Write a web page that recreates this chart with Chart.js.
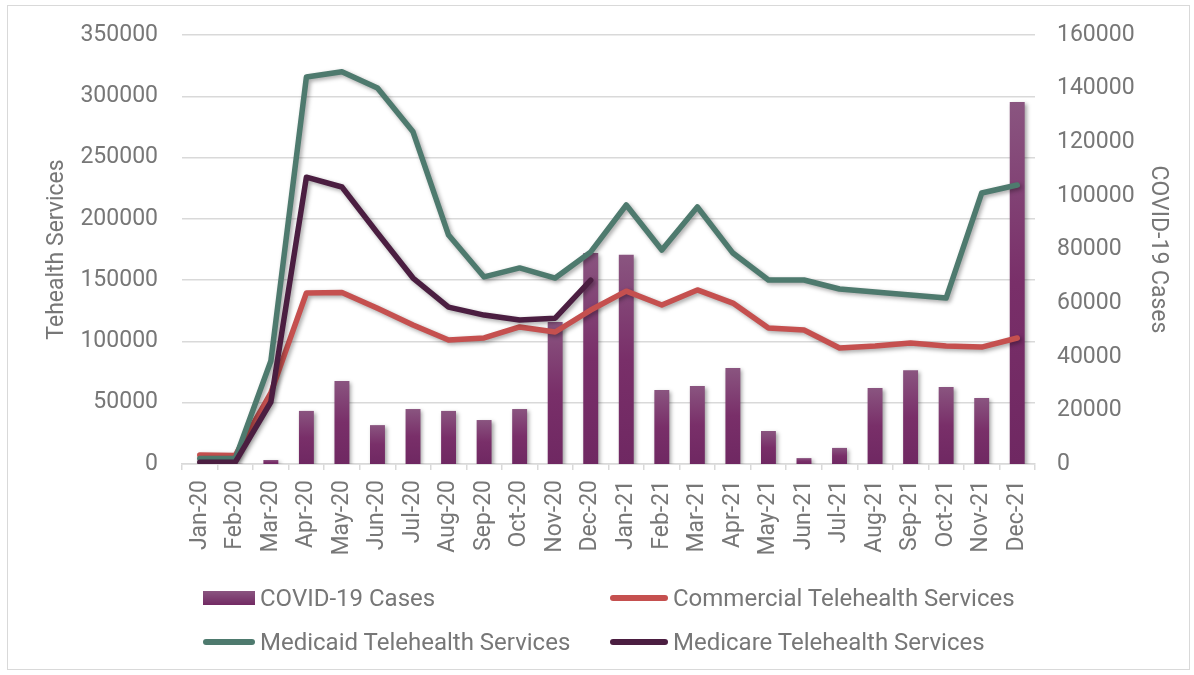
<!DOCTYPE html>
<html>
<head>
<meta charset="utf-8">
<script src="https://cdn.jsdelivr.net/npm/chart.js@4.4.1/dist/chart.umd.min.js"></script>
<style>
    body { margin: 0; background: #fff; font-family: Roboto, sans-serif; }
    #frame { position: absolute; left: 7px; top: 5px; width: 1181px; height: 663px; border: 1px solid #d9d9d9; }
    canvas { display: block; }
    .item { position: absolute; display: flex; align-items: center; white-space: nowrap;
            font: 24px Roboto, sans-serif; color: #777; line-height: 28px; height: 28px; }
    .swatch-bar { width: 52px; height: 14px; margin-right: 5px;
                  background: linear-gradient(#8a5580, #722a63); }
    .swatch-line { width: 58px; height: 6px; border-radius: 3px; margin-right: 5px; }
</style>
</head>
<body>
<div id="frame">
    <canvas id="chart" width="1181" height="663"></canvas>
    <div class="item" style="left:195px; top:578px;"><span class="swatch-bar"></span>COVID-19 Cases</div>
    <div class="item" style="left:602px; top:578px;"><span class="swatch-line" style="background:#c5504f"></span>Commercial Telehealth Services</div>
    <div class="item" style="left:195px; top:622px;"><span class="swatch-line" style="background:#4e7a6e; width:52px"></span>Medicaid Telehealth Services</div>
    <div class="item" style="left:602px; top:622px;"><span class="swatch-line" style="background:#4b1e41"></span>Medicare Telehealth Services</div>
</div>
<script>
const months = ['Jan-20', 'Feb-20', 'Mar-20', 'Apr-20', 'May-20', 'Jun-20', 'Jul-20', 'Aug-20',
    'Sep-20', 'Oct-20', 'Nov-20', 'Dec-20', 'Jan-21', 'Feb-21', 'Mar-21', 'Apr-21', 'May-21',
    'Jun-21', 'Jul-21', 'Aug-21', 'Sep-21', 'Oct-21', 'Nov-21', 'Dec-21'];

const covidCases = [0, 20, 1500, 19800, 31000, 14500, 20500, 19800, 16400, 20500, 53000, 78700,
    78000, 27600, 29100, 35800, 12300, 2200, 6000, 28300, 35000, 28700, 24600, 135000];

const commercial = [7300, 7000, 58000, 139500, 140000, 127000, 113400, 101200, 102800, 111800, 107700, 125600,
    141000, 129700, 142000, 131300, 111000, 109300, 94600, 96300, 98700, 96300, 95400, 102800];

const medicaid = [4500, 4500, 84000, 315700, 320000, 306700, 271000, 186800, 152600, 160000, 151700, 173000,
    211300, 174600, 209700, 172100, 150100, 150100, 142800, 140300, 137900, 135400, 221100, 227600];

const medicare = [1500, 1500, 50600, 234000, 226000, 188500, 151700, 128000, 121500, 117500, 119000, 150000,
    null, null, null, null, null, null, null, null, null, null, null, null];

// min, max, step
const servicesAxis = [0, 350000, 50000];
const casesAxis = [0, 160000, 20000];

Chart.defaults.font.family = 'Roboto, sans-serif';
Chart.defaults.font.size = 23;
Chart.defaults.color = '#777';

// soft drop shadow under bars and lines
const shadowPlugin = {
    id: 'shadow',
    beforeDatasetsDraw(chart) {
        const c = chart.ctx;
        c.save();
        c.shadowColor = 'rgba(0,0,0,0.35)';
        c.shadowBlur = 4;
        c.shadowOffsetX = 2;
        c.shadowOffsetY = 2;
    },
    afterDatasetsDraw(chart) {
        chart.ctx.restore();
    }
};

function barFill(ctx) {
    const chart = ctx.chart;
    if (ctx.type !== 'data' || !chart.chartArea) return '#772d66';
    const s = chart.scales.yCases;
    const top = s.getPixelForValue(ctx.raw);
    const bottom = s.getPixelForValue(0);
    if (bottom - top < 1) return '#772d66';
    const g = chart.ctx.createLinearGradient(0, top, 0, bottom);
    g.addColorStop(0, '#8a5580');
    g.addColorStop(0.5, '#792f69');
    g.addColorStop(1, '#6f2862');
    return g;
}

function lineSet(label, data, color, order) {
    return {
        type: 'line',
        label: label,
        data: data,
        yAxisID: 'y',
        borderColor: color,
        backgroundColor: color,
        borderWidth: 5.5,
        pointRadius: 0,
        tension: 0,
        borderJoinStyle: 'round',
        borderCapStyle: 'round',
        order: order
    };
}

// fixed axis width, and drop the extra top/bottom padding chart.js adds from tick padding
function fixY(width) {
    return s => {
        s.width = width;
        s.paddingTop = 14;
        s.paddingBottom = 14;
    };
}

new Chart(document.getElementById('chart'), {
    type: 'bar',
    data: {
        labels: months,
        datasets: [
            {
                label: 'COVID-19 Cases',
                data: covidCases,
                yAxisID: 'yCases',
                backgroundColor: barFill,
                barPercentage: 0.42,
                categoryPercentage: 1,
                order: 10
            },
            lineSet('Commercial Telehealth Services', commercial, '#c5504f', 2),
            lineSet('Medicaid Telehealth Services', medicaid, '#4e7a6e', 1),
            lineSet('Medicare Telehealth Services', medicare, '#4b1e41', 0)
        ]
    },
    options: {
        responsive: false,
        animation: false,
        devicePixelRatio: 1,
        layout: { padding: { top: 29, bottom: 105, left: 0, right: 0 } },
        plugins: {
            legend: { display: false },
            tooltip: { enabled: false }
        },
        scales: {
            x: {
                grid: { display: true, drawOnChartArea: false, drawTicks: true, tickLength: 6, color: '#d9d9d9', lineWidth: 1.5 },
                border: { color: '#d9d9d9', width: 1.5 },
                ticks: { minRotation: 90, maxRotation: 90, autoSkip: false, padding: 10 },
                afterFit(s) { s.height = 100; }
            },
            y: {
                position: 'left',
                min: servicesAxis[0],
                max: servicesAxis[1],
                ticks: { stepSize: servicesAxis[2], padding: 24, callback: v => String(v) },
                grid: { color: '#d9d9d9', lineWidth: 1.5, drawTicks: false },
                border: { display: false },
                title: { display: true, text: 'Tehealth Services', padding: { top: 35, bottom: 0 } },
                afterFit: fixY(174)
            },
            yCases: {
                position: 'right',
                min: casesAxis[0],
                max: casesAxis[1],
                ticks: { stepSize: casesAxis[2], padding: 14, callback: v => String(v) },
                grid: { display: false },
                border: { display: false },
                title: { display: true, text: 'COVID-19 Cases', padding: { top: 17, bottom: 0 } },
                afterFit: fixY(154)
            }
        }
    },
    plugins: [shadowPlugin]
});
</script>
</body>
</html>
